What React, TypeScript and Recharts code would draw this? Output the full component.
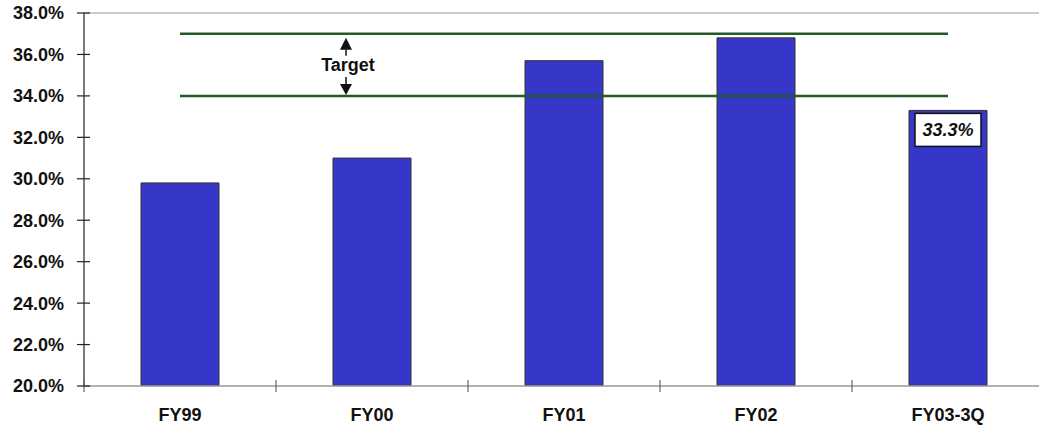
import React from 'react';
import {
  BarChart,
  Bar,
  XAxis,
  YAxis,
  ReferenceLine,
  ReferenceArea,
  LabelList,
} from 'recharts';

// Gross margin by fiscal year
const categories = ['FY99', 'FY00', 'FY01', 'FY02', 'FY03-3Q'];
const margins = [29.8, 31.0, 35.7, 36.8, 33.3];
const calloutCategory = 'FY03-3Q';

const yTicks = [20, 22, 24, 26, 28, 30, 32, 34, 36, 38];
const targetLow = 34;
const targetHigh = 37;
const targetText = 'Target';

const data = categories.map((name, i) => ({
  name,
  margin: margins[i],
  callout: name === calloutCategory ? margins[i] : undefined,
}));

const FONT = '"Liberation Sans", Arial, Helvetica, sans-serif';
const BAR_FILL = '#3636C8';
const TARGET_GREEN = '#245a24';

const YTick = (props: any) => {
  const { x, y, payload } = props;
  const axisX = x + 20;
  return (
    <g>
      <line x1={axisX - 7} x2={axisX + 6} y1={y} y2={y} stroke="#222" strokeWidth={1.2} />
      <text
        x={x}
        y={y}
        dy="0.355em"
        textAnchor="end"
        fontFamily={FONT}
        fontWeight="bold"
        fontSize={18}
        fill="#111"
      >
        {`${Number(payload.value).toFixed(1)}%`}
      </text>
    </g>
  );
};

const XTick = (props: any) => {
  const { x, y, payload, index } = props;
  const half = payload.offset || 0;
  const axisY = y - 6;
  const last = index === categories.length - 1;
  return (
    <g>
      <line x1={x - half} x2={x - half} y1={axisY - 6} y2={axisY + 6} stroke="#666" strokeWidth={1.2} />
      {last && (
        <line x1={x + half} x2={x + half} y1={axisY - 6} y2={axisY + 6} stroke="#666" strokeWidth={1.2} />
      )}
      <text
        x={x}
        y={y}
        dy={29}
        textAnchor="middle"
        fontFamily={FONT}
        fontWeight="bold"
        fontSize={18}
        fill="#111"
      >
        {payload.value}
      </text>
    </g>
  );
};

// Boxed value shown inside the top of the highlighted bar
const Callout = (props: any) => {
  const { x, y, width, value } = props;
  if (value === undefined || value === null) return null;
  const cx = x + width / 2;
  const boxW = 66;
  const boxH = 33;
  return (
    <g>
      <rect
        x={cx - boxW / 2}
        y={y + 3}
        width={boxW}
        height={boxH}
        fill="#fff"
        stroke="#111"
        strokeWidth={1.5}
      />
      <text
        x={cx}
        y={y + 3 + boxH / 2}
        dy="0.355em"
        textAnchor="middle"
        fontFamily={FONT}
        fontWeight="bold"
        fontStyle="italic"
        fontSize={18}
        fill="#111"
      >
        {`${Number(value).toFixed(1)}%`}
      </text>
    </g>
  );
};

// Double-headed arrow with the "Target" caption between the two target lines
const TargetMarker = (props: any) => {
  const vb = props.viewBox || {};
  const top = vb.y;
  const bottom = vb.y + vb.height;
  const ax = vb.x + 262;
  const mid = (top + bottom) / 2;
  return (
    <g>
      <polygon points={`${ax},${top + 4} ${ax - 6},${top + 16} ${ax + 6},${top + 16}`} fill="#111" />
      <line x1={ax} x2={ax} y1={top + 16} y2={top + 22} stroke="#111" strokeWidth={1.5} />
      <text
        x={ax + 2}
        y={mid}
        dy="0.355em"
        textAnchor="middle"
        fontFamily={FONT}
        fontWeight="bold"
        fontSize={18}
        fill="#111"
      >
        {targetText}
      </text>
      <line x1={ax} x2={ax} y1={bottom - 19} y2={bottom - 12} stroke="#111" strokeWidth={1.5} />
      <polygon points={`${ax},${bottom - 1} ${ax - 6},${bottom - 12} ${ax + 6},${bottom - 12}`} fill="#111" />
    </g>
  );
};

export default function App() {
  return (
    <div
      style={{
        position: 'absolute',
        left: 0,
        top: 0,
        width: 1039,
        height: 431,
        overflow: 'hidden',
        background: '#fff',
      }}
    >
      <BarChart
        width={1050}
        height={431}
        data={data}
        margin={{ top: 13, right: 6, bottom: 0, left: 0 }}
      >
        <XAxis
          dataKey="name"
          height={45}
          axisLine={{ stroke: '#999', strokeWidth: 1.5 }}
          tickLine={false}
          tickSize={6}
          tickMargin={0}
          tick={<XTick />}
          interval={0}
        />
        <YAxis
          width={84}
          domain={[20, 38]}
          ticks={yTicks}
          allowDataOverflow
          axisLine={{ stroke: '#222', strokeWidth: 1.2 }}
          tickLine={false}
          tickSize={7}
          tickMargin={13}
          tick={<YTick />}
          interval={0}
        />
        <ReferenceLine y={38} stroke="#bbb" strokeWidth={1.5} />
        <Bar
          dataKey="margin"
          fill={BAR_FILL}
          stroke="#333"
          strokeWidth={1}
          barSize={78}
          isAnimationActive={false}
        >
          <LabelList dataKey="callout" content={<Callout />} />
        </Bar>
        <ReferenceArea
          y1={targetLow}
          y2={targetHigh}
          fill="none"
          fillOpacity={0}
          stroke="none"
          label={<TargetMarker />}
        />
        <ReferenceLine
          segment={[
            { x: categories[0], y: targetHigh },
            { x: categories[categories.length - 1], y: targetHigh },
          ]}
          stroke={TARGET_GREEN}
          strokeWidth={2.5}
        />
        <ReferenceLine
          segment={[
            { x: categories[0], y: targetLow },
            { x: categories[categories.length - 1], y: targetLow },
          ]}
          stroke={TARGET_GREEN}
          strokeWidth={2.5}
        />
      </BarChart>
    </div>
  );
}
